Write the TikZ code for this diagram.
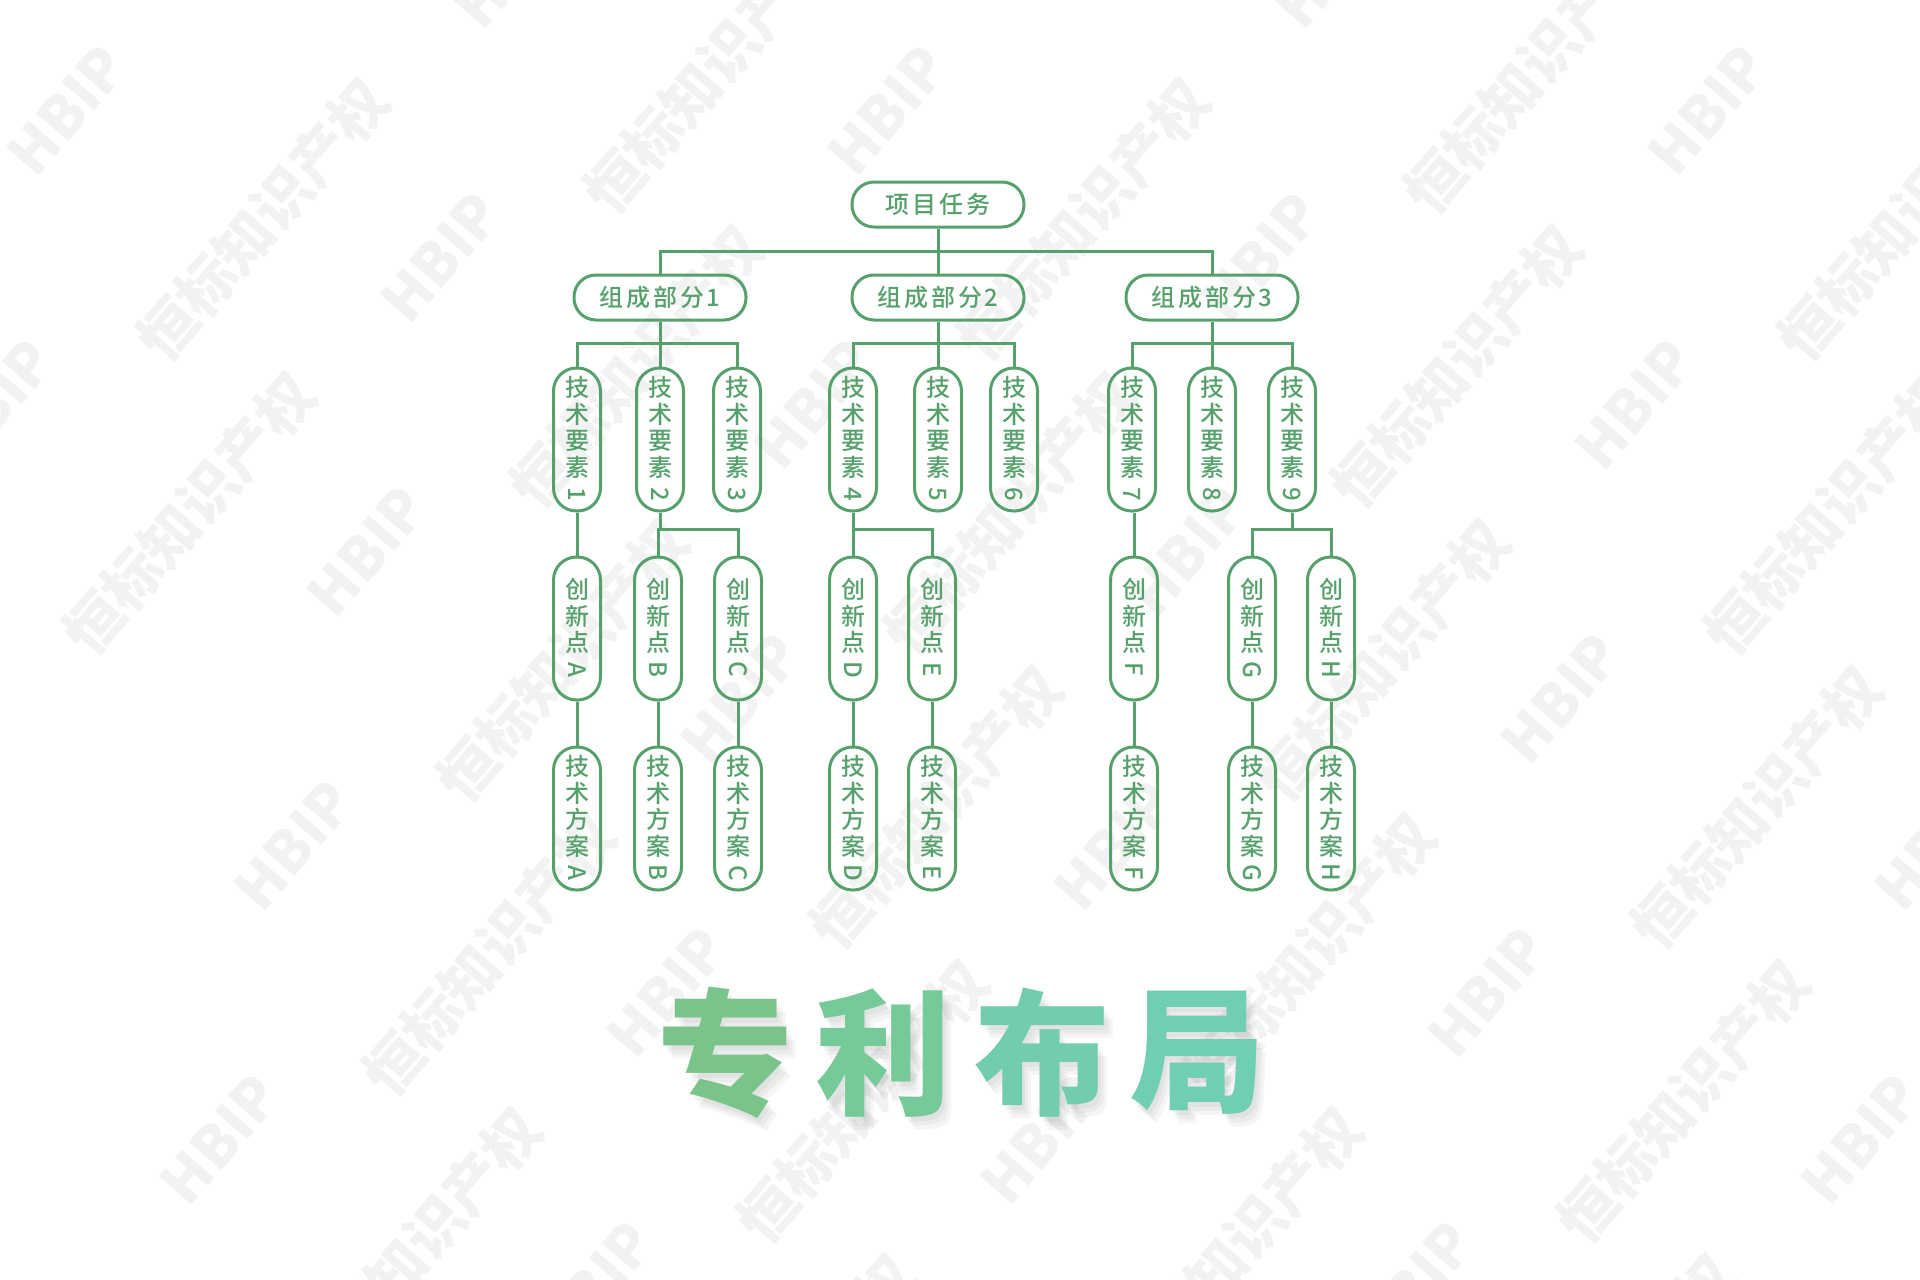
\documentclass[tikz,border=0pt]{standalone}
\usepackage{fontspec}
\usepackage{graphicx}
\newfontfamily\cjk{Noto Sans CJK SC Medium}
\newfontfamily\cjkblack{Noto Sans CJK SC Black}
\definecolor{hbgreen}{RGB}{86,161,107}
\definecolor{wmgray}{RGB}{242,242,242}
\definecolor{titleA}{RGB}{122,196,140}
\definecolor{titleB}{RGB}{118,201,152}
\definecolor{titleC}{RGB}{114,205,172}
\definecolor{titleD}{RGB}{112,206,178}
\newcommand{\tail}[1]{\rotatebox[origin=c]{-90}{#1}}
\newcommand{\hlabel}{\cjk\fontsize{24}{27}\selectfont\addfontfeature{LetterSpace=12}}
\newcommand{\vlabel}{\cjk\fontsize{24}{26.5}\selectfont}

\begin{document}
\begin{tikzpicture}[
  x = 1pt, y = -1pt,
  pill/.style={draw=hbgreen, line width=3pt, rounded corners=22pt, minimum width=172pt,
    minimum height=45pt, inner sep=0pt, text=hbgreen, font=\hlabel},
  vpill/.style={draw=hbgreen, line width=3pt, rounded corners=23pt, minimum width=47pt,
    minimum height=143pt, inner sep=0pt, text=hbgreen, align=center, font=\vlabel},
  link/.style={draw=hbgreen, line width=3pt},
  wmark/.style={text=wmgray, font=\cjkblack\fontsize{58}{58}\selectfont, rotate=49},
  bigchar/.style={font=\cjkblack\fontsize{136}{136}\selectfont},
  haze/.style={bigchar, text=black, opacity=.04}
]
\useasboundingbox (0,0) rectangle (1920,1280);
%general params
\def\yRoot{204.5}  %row of the task
\def\yPart{297.5}  %row of the parts
\def\yElem{439.5}  %row of the elements
\def\yInno{628.5}  %row of the innovation points
\def\ySolu{818.5}  %row of the solutions

%watermark
\begin{scope}
\clip (0,0) rectangle (1920,1280);
\foreach \i in {-3,...,8}
  \foreach \j in {-3,...,6}{
    \pgfmathsetmacro{\wx}{67+373.5*\i-73.5*\j}
    \pgfmathsetmacro{\wy}{110+147*\i+294*\j}
    \pgfmathsetmacro{\inside}{and(and(\wx>-60,\wx<1980),and(\wy>-60,\wy<1340))}
    \ifdim\inside pt>0pt
      \node[wmark] at (\wx,\wy) {HBIP};
      \node[wmark] at (\wx+196,\wy+110) {恒标知识产权};
    \fi
  }
\end{scope}

%task and parts
\node[pill] (root) at (938,\yRoot) {项目任务};
\node[pill] (g1) at (660,\yPart) {组成部分1};
\node[pill] (g2) at (938,\yPart) {组成部分2};
\node[pill] (g3) at (1212,\yPart) {组成部分3};

%technical elements
\foreach \x/\n in {577/1, 660/2, 737/3, 853/4, 938/5, 1014/6, 1132/7, 1212/8, 1292/9}
  \node[vpill] (e\n) at (\x,\yElem) {技\\术\\要\\素\\\tail{\n}};

%innovation points and solutions
\foreach \x/\n in {577/A, 658/B, 738/C, 853/D, 932/E, 1134/F, 1252/G, 1331/H}{
  \node[vpill] (p\n) at (\x,\yInno) {创\\新\\点\\\tail{\n}};
  \node[vpill] (s\n) at (\x,\ySolu) {技\\术\\方\\案\\\tail{\n}};
}

%connectors
\draw[link] (root.south) -- (g2.north);
\draw[link] (root.south) ++(0,23) -| (g1.north);
\draw[link] (root.south) ++(0,23) -| (g3.north);
\foreach \g/\l/\m/\r in {g1/1/2/3, g2/4/5/6, g3/7/8/9}{
  \draw[link] (\g.south) -- (e\m.north);
  \draw[link] (\g.south) ++(0,22) -| (e\l.north);
  \draw[link] (\g.south) ++(0,22) -| (e\r.north);
}
\draw[link] (e1.south) -- (pA.north);
\draw[link] (e2.south) -- ++(0,17) -| (pB.north);
\draw[link] (e2.south) ++(0,17) -| (pC.north);
\draw[link] (e4.south) -- ++(0,17) -| (pE.north);
\draw[link] (e4.south) -- (pD.north);
\draw[link] (pF.north) -- (pF.north |- e7.south);
\draw[link] (e9.south) -- ++(0,17) -| (pG.north);
\draw[link] (e9.south) ++(0,17) -| (pH.north);
\foreach \n in {A,...,H}
  \draw[link] (p\n.south) -- (s\n.north);

%title
\foreach \dx/\dy in {3/5, 6/9, 9/13}{
  \node[haze] at (725+\dx,1053+\dy) {专};
  \node[haze] at (883+\dx,1053+\dy) {利};
  \node[haze] at (1042+\dx,1053+\dy) {布};
  \node[haze] at (1197+\dx,1053+\dy) {局};
}
\node[bigchar, text=titleA] (t1) at (725,1053) {专};
\node[bigchar, text=titleB] (t2) at (883,1053) {利};
\node[bigchar, text=titleC] (t3) at (1042,1053) {布};
\node[bigchar, text=titleD] (t4) at (1197,1053) {局};
\end{tikzpicture}
\end{document}
